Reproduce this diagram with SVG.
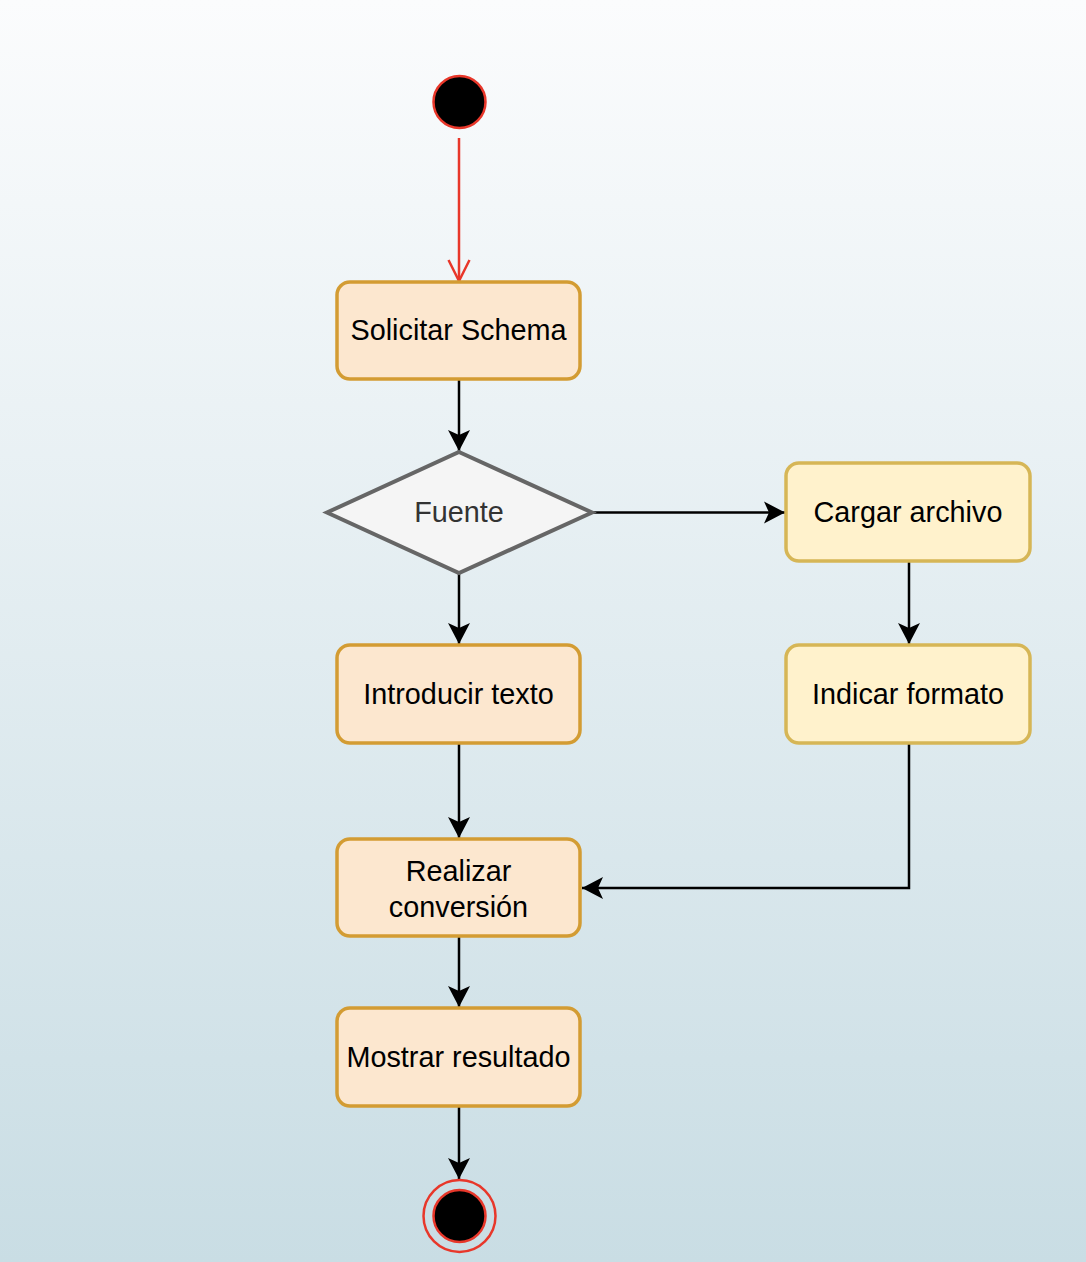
<svg xmlns="http://www.w3.org/2000/svg" width="1086" height="1262" viewBox="0 0 1086 1262">
<defs>
<linearGradient id="bg" x1="0" y1="0" x2="0" y2="1">
<stop offset="0" stop-color="#fbfcfd"/>
<stop offset="1" stop-color="#c9dde4"/>
</linearGradient>
<marker id="arr" markerUnits="userSpaceOnUse" markerWidth="24" markerHeight="24" viewBox="-22 -12 24 24" refX="0" refY="0" orient="auto">
<path d="M0,0 L-21,-11 L-16,0 L-21,11 Z" fill="#000"/>
</marker>
<marker id="open" markerUnits="userSpaceOnUse" markerWidth="26" markerHeight="26" viewBox="-24 -13 26 26" refX="0" refY="0" orient="auto">
<path d="M-21,-10.5 L0,0 L-21,10.5" fill="none" stroke="#e8372a" stroke-width="2.5"/>
</marker>
</defs>
<style>
.act rect{fill:#fce7cf;stroke:#d39c33;stroke-width:3.5}
.alt rect{fill:#fff2cc;stroke:#d6b656;stroke-width:3.5}
text{font-family:"Liberation Sans",Arial,sans-serif;font-size:28.8px;text-anchor:middle;fill:#000}
.edge{fill:none;stroke:#000;stroke-width:2.5;marker-end:url(#arr)}
</style>
<rect x="0" y="0" width="1086" height="1262" fill="url(#bg)"/>
<g id="connectors">
<path d="M459,138 L459,281" fill="none" stroke="#e8372a" stroke-width="2.5" marker-end="url(#open)"/>
<path class="edge" d="M459,379 L459,451"/>
<path class="edge" d="M592,512.5 L785,512.5"/>
<path class="edge" d="M459,573 L459,644"/>
<path class="edge" d="M909,561 L909,644"/>
<path class="edge" d="M459,743 L459,838"/>
<path class="edge" d="M909,743 L909,888 L582,888"/>
<path class="edge" d="M459,936 L459,1007"/>
<path class="edge" d="M459,1106 L459,1179"/>
</g>
<g id="start">
<circle cx="459.5" cy="102" r="26" fill="#000" stroke="#e8372a" stroke-width="2.5"/>
</g>
<g id="solicitar" class="act">
<rect x="337" y="282" width="243" height="97" rx="13"/>
<text x="458.5" y="340">Solicitar Schema</text>
</g>
<g id="fuente">
<polygon points="459,452 592,512.5 459,573 327,512.5" fill="#f5f5f5" stroke="#666" stroke-width="4"/>
<text x="459" y="522" style="fill:#333">Fuente</text>
</g>
<g id="cargar" class="alt">
<rect x="786" y="463" width="244" height="98" rx="13"/>
<text x="908" y="522">Cargar archivo</text>
</g>
<g id="indicar" class="alt">
<rect x="786" y="645" width="244" height="98" rx="13"/>
<text x="908" y="704">Indicar formato</text>
</g>
<g id="introducir" class="act">
<rect x="337" y="645" width="243" height="98" rx="13"/>
<text x="458.5" y="704">Introducir texto</text>
</g>
<g id="realizar" class="act">
<rect x="337" y="839" width="243" height="97" rx="13"/>
<text x="458.5" y="880.5">Realizar</text>
<text x="458.5" y="916.5">conversión</text>
</g>
<g id="mostrar" class="act">
<rect x="337" y="1008" width="243" height="98" rx="13"/>
<text x="458.5" y="1067">Mostrar resultado</text>
</g>
<g id="end">
<circle cx="459.5" cy="1216" r="36" fill="none" stroke="#e8372a" stroke-width="2.5"/>
<circle cx="459.5" cy="1216" r="26" fill="#000" stroke="#e8372a" stroke-width="2.5"/>
</g>
</svg>
